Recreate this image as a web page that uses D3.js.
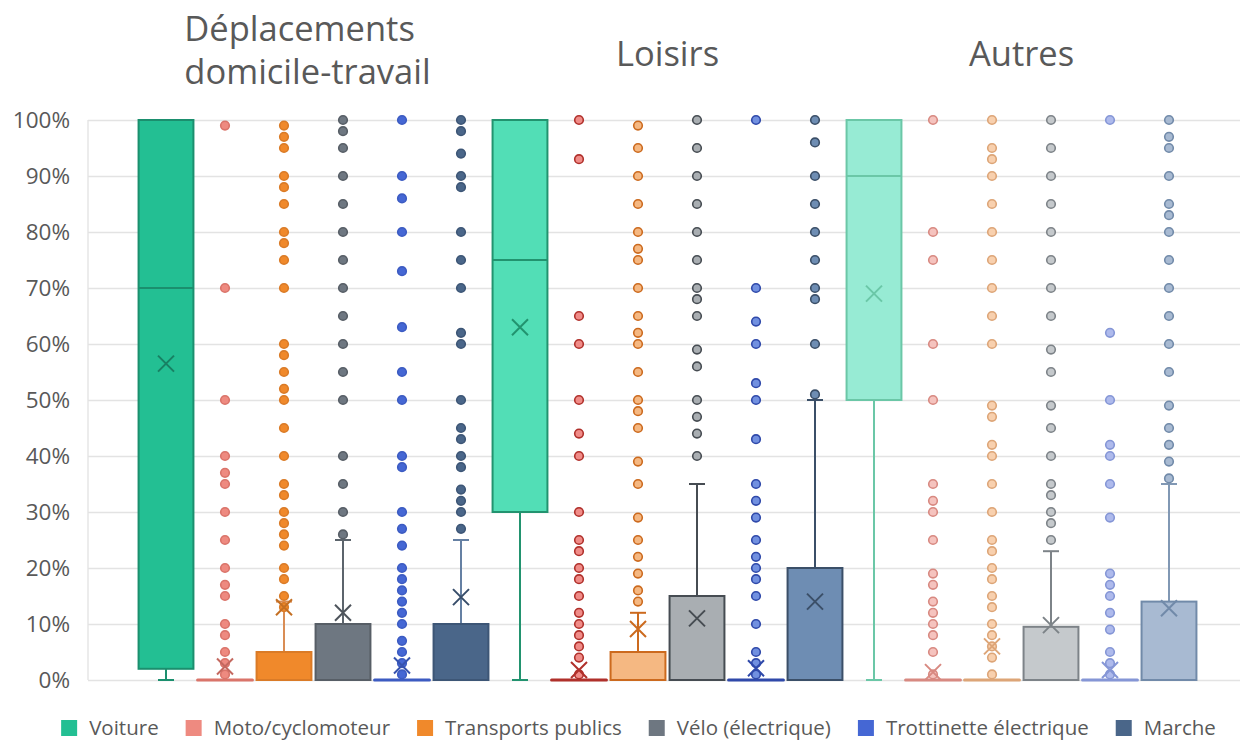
<!DOCTYPE html>
<html lang="fr">
<head>
<meta charset="utf-8">
<script src="https://cdn.jsdelivr.net/npm/d3@7"></script>
<style>
  html, body { margin: 0; padding: 0; background: #ffffff; }
  svg { display: block; font-family: "Open Sans", "Noto Sans", sans-serif; }
</style>
</head>
<body>
<svg id="chart" width="1253" height="742"></svg>
<script>
// Trip purposes (chart groups) and transport modes (series)
const purposes = [["Déplacements", "domicile-travail"], ["Loisirs"], ["Autres"]];
const modes = ["Voiture", "Moto/cyclomoteur", "Transports publics", "Vélo (électrique)", "Trottinette électrique", "Marche"];

// Box statistics in %, one row per purpose, one column per mode
const q1 = [
  [2, 0, 0, 0, 0, 0],
  [30, 0, 0, 0, 0, 0],
  [50, 0, 0, 0, 0, 0]
];
const median = [
  [70, 0, 0, 0, 0, 0],
  [75, 0, 0, 0, 0, 0],
  [90, 0, 0, 0, 0, 0]
];
const q3 = [
  [100, 0, 5, 10, 0, 10],
  [100, 0, 5, 15, 0, 20],
  [100, 0, 0, 9.5, 0, 14]
];
const whiskerLow = [
  [0, 0, 0, 0, 0, 0],
  [0, 0, 0, 0, 0, 0],
  [0, 0, 0, 0, 0, 0]
];
const whiskerHigh = [
  [100, 0, 14, 25, 0, 25],
  [100, 0, 12, 35, 0, 50],
  [100, 0, 0, 23, 0, 35]
];
const means = [
  [56.5, 2.4, 13, 12, 2.6, 14.8],
  [63, 1.8, 9.1, 11, 2.1, 14],
  [69, 1.4, 6, 9.8, 1.8, 12.8]
];

// Outlying answers in %, per mode
const outliersDomicile = [
  [],
  [99, 70, 50, 40, 37, 35, 30, 25, 20, 17, 15, 10, 8, 5, 3, 1],
  [99, 97, 95, 90, 88, 85, 80, 78, 75, 70, 60, 58, 55, 52, 50, 45, 40, 35, 33, 30, 28, 26, 24, 20, 18, 15, 13],
  [100, 98, 95, 90, 85, 80, 75, 70, 65, 60, 55, 50, 40, 35, 30, 26],
  [100, 90, 86, 80, 73, 63, 55, 50, 40, 38, 30, 27, 24, 20, 18, 16, 14, 12, 10, 7, 5, 3, 1],
  [100, 98, 94, 90, 88, 80, 75, 70, 62, 60, 50, 45, 43, 40, 38, 34, 32, 30, 27]
];
const outliersLoisirs = [
  [],
  [100, 93, 65, 60, 50, 44, 40, 30, 25, 23, 20, 18, 15, 12, 10, 8, 6, 4, 1],
  [99, 95, 90, 85, 80, 77, 75, 70, 65, 62, 60, 55, 50, 48, 45, 39, 35, 29, 25, 22, 19, 16, 14],
  [100, 95, 90, 85, 80, 75, 70, 68, 65, 59, 56, 50, 47, 44, 40],
  [100, 70, 64, 60, 53, 50, 43, 35, 32, 29, 25, 22, 20, 18, 15, 10, 5, 3, 1],
  [100, 96, 90, 85, 80, 75, 70, 68, 60, 51]
];
const outliersAutres = [
  [],
  [100, 80, 75, 60, 50, 35, 32, 30, 25, 19, 17, 14, 12, 10, 8, 5, 1],
  [100, 95, 93, 90, 85, 80, 75, 70, 65, 60, 49, 47, 42, 40, 35, 30, 25, 23, 20, 18, 15, 13, 10, 8, 6, 4, 1],
  [100, 95, 90, 85, 80, 75, 70, 65, 59, 55, 49, 45, 40, 35, 33, 30, 28, 25],
  [100, 62, 50, 42, 40, 35, 29, 19, 17, 15, 12, 9, 5, 3, 1],
  [100, 97, 95, 90, 85, 83, 80, 75, 70, 65, 60, 55, 49, 45, 42, 39, 36]
];
const outliers = [outliersDomicile, outliersLoisirs, outliersAutres];

const yTicks = [0, 10, 20, 30, 40, 50, 60, 70, 80, 90, 100];

// Palette: each purpose uses its own shade of the mode colours
const fills = [
  ["#23bf93", "#ee8a80", "#f0892b", "#6e7781", "#4567d4", "#4a6689"],
  ["#52deb6", "#f08c88", "#f5b882", "#a9aeb2", "#7190e0", "#6e8db3"],
  ["#97ebd4", "#f5c3be", "#f8d0ae", "#c5c9cc", "#aebaec", "#a8bad2"]
];
const strokes = [
  ["#1b8f6e", "#da746a", "#da7b27", "#575e66", "#3c5bc2", "#3d5676"],
  ["#22936f", "#b0302b", "#cc6a1e", "#464c52", "#2f49aa", "#3b4f68"],
  ["#6bc7a7", "#d88981", "#dda577", "#7d8388", "#8596d6", "#718aa9"]
];
const whiskerColours = [
  ["#1b8f6e", "#da746a", "#d98d55", "#5c646c", "#3c5bc2", "#6580a3"],
  ["#22936f", "#b0302b", "#cc6a1e", "#464c52", "#2f49aa", "#3b4f68"],
  ["#6bc7a7", "#d88981", "#dda577", "#7d8388", "#8596d6", "#8198b4"]
];
const legendColours = fills[0];

const svg = d3.select("#chart");
const plot = { left: 88, right: 1240, top: 120, bottom: 680 };
const textGrey = "#595959";

const y = d3.scaleLinear().domain([0, 100]).range([plot.bottom, plot.top]);
const xGroup = d3.scaleBand().domain(d3.range(purposes.length)).range([136.5, 1198.5]).padding(0);
const xMode = d3.scaleBand().domain(d3.range(modes.length)).range([0, xGroup.bandwidth()])
  .paddingInner(0.07).paddingOuter(0.035);

// Horizontal gridlines and axis
const yAxis = d3.axisLeft(y).tickValues(yTicks).tickFormat(d => d + "%")
  .tickSize(-(plot.right - plot.left)).tickPadding(18);
const gAxis = svg.append("g").attr("transform", `translate(${plot.left},0)`).call(yAxis);
gAxis.select(".domain").attr("stroke", "#d9d9d9").attr("d", `M0,${plot.top}V${plot.bottom}`);
gAxis.selectAll(".tick line").attr("stroke", "#e3e3e3").attr("stroke-width", 1.3);
gAxis.selectAll(".tick text").attr("fill", textGrey).attr("font-size", 22.5)
  .attr("font-family", "'Open Sans', sans-serif");

// Purpose titles: a left-aligned block of lines, centred over its group
purposes.forEach((lines, g) => {
  const cx = xGroup(g) + xGroup.bandwidth() / 2;
  const t = svg.append("text").attr("fill", textGrey).attr("font-size", 34.5);
  const baseY = lines.length === 2 ? 41 : 66;
  const spans = lines.map((s, i) => t.append("tspan").attr("y", baseY + i * 43).text(s));
  const widest = d3.max(spans, s => s.node().getComputedTextLength());
  const left = cx - widest / 2 - (lines.length === 2 ? 6 : 0);
  spans.forEach(s => s.attr("x", left));
});

// Boxes, whiskers, means and outliers
const capHalf = 8;
purposes.forEach((_, g) => {
  modes.forEach((_, m) => {
    const x0 = xGroup(g) + xMode(m);
    const w = xMode.bandwidth();
    const cx = x0 + w / 2;
    const fill = fills[g][m], stroke = strokes[g][m], wc = whiskerColours[g][m];
    const layer = svg.append("g");

    // whiskers
    if (whiskerHigh[g][m] > q3[g][m]) {
      layer.append("line").attr("x1", cx).attr("x2", cx)
        .attr("y1", y(q3[g][m])).attr("y2", y(whiskerHigh[g][m]))
        .attr("stroke", wc).attr("stroke-width", 2);
      layer.append("line").attr("x1", cx - capHalf).attr("x2", cx + capHalf)
        .attr("y1", y(whiskerHigh[g][m])).attr("y2", y(whiskerHigh[g][m]))
        .attr("stroke", wc).attr("stroke-width", 2);
    }
    if (whiskerLow[g][m] < q1[g][m]) {
      layer.append("line").attr("x1", cx).attr("x2", cx)
        .attr("y1", y(q1[g][m])).attr("y2", y(whiskerLow[g][m]))
        .attr("stroke", wc).attr("stroke-width", 2);
      layer.append("line").attr("x1", cx - capHalf).attr("x2", cx + capHalf)
        .attr("y1", y(whiskerLow[g][m])).attr("y2", y(whiskerLow[g][m]))
        .attr("stroke", wc).attr("stroke-width", 2);
    }

    // box (a flat bar when the quartiles coincide)
    const h = y(q1[g][m]) - y(q3[g][m]);
    if (h > 0) {
      layer.append("rect").attr("x", x0).attr("y", y(q3[g][m]))
        .attr("width", w).attr("height", h)
        .attr("fill", fill).attr("stroke", stroke).attr("stroke-width", 2);
    } else {
      layer.append("line").attr("x1", x0).attr("x2", x0 + w)
        .attr("y1", y(q1[g][m])).attr("y2", y(q1[g][m]))
        .attr("stroke", stroke).attr("stroke-width", 3).attr("stroke-linecap", "round");
    }
    if (median[g][m] > q1[g][m] && median[g][m] < q3[g][m]) {
      layer.append("line").attr("x1", x0).attr("x2", x0 + w)
        .attr("y1", y(median[g][m])).attr("y2", y(median[g][m]))
        .attr("stroke", stroke).attr("stroke-width", 2);
    }

    // outliers
    layer.selectAll("circle.out").data(outliers[g][m]).join("circle")
      .attr("class", "out")
      .attr("cx", cx).attr("cy", d => y(d)).attr("r", 4.3)
      .attr("fill", fill).attr("stroke", stroke).attr("stroke-width", 1.6);

    // mean marker
    const my = y(means[g][m]);
    layer.append("path")
      .attr("d", `M${cx - 8},${my - 8}L${cx + 8},${my + 8}M${cx - 8},${my + 8}L${cx + 8},${my - 8}`)
      .attr("stroke", g === 0 ? d3.color(stroke).darker(0.3) : stroke)
      .attr("stroke-width", 2).attr("fill", "none");
  });
});

// Legend
const legend = svg.append("g");
const legendGap = 27;
let lx = 0;
modes.forEach((name, i) => {
  const item = legend.append("g").attr("transform", `translate(${lx},0)`);
  item.append("rect").attr("x", 0).attr("y", -8).attr("width", 16).attr("height", 16)
    .attr("fill", legendColours[i]);
  const t = item.append("text").attr("x", 28).attr("y", 0).attr("dy", "0.35em")
    .attr("fill", textGrey).attr("font-size", 20.5).text(name);
  lx += 28 + t.node().getComputedTextLength() + legendGap;
});
const legendWidth = lx - legendGap;
legend.attr("transform", `translate(${(62 + 1215 - legendWidth) / 2},728)`);
</script>
</body>
</html>
